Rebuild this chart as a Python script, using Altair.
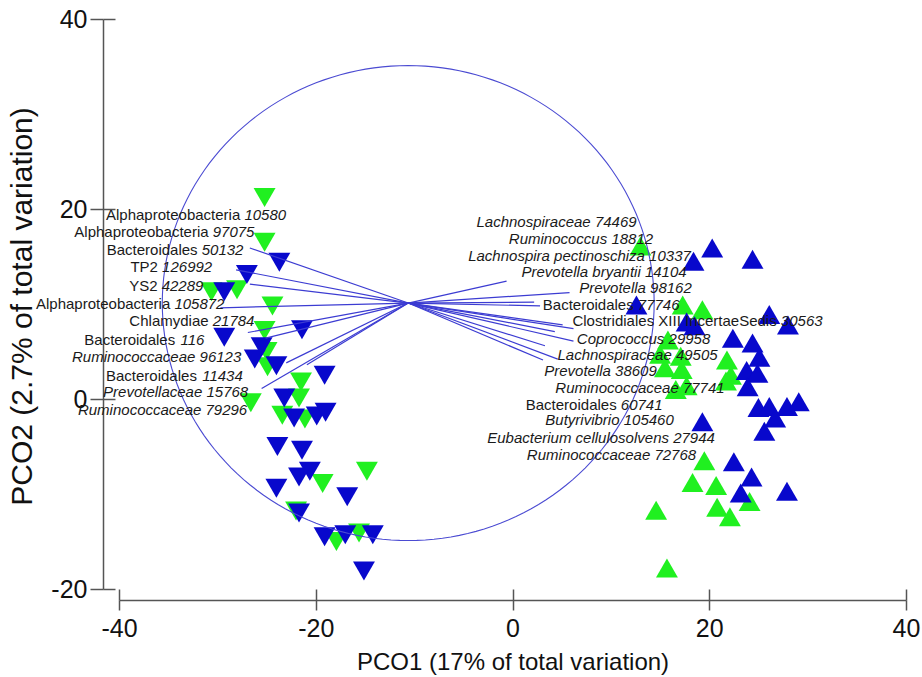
import altair as alt
import pandas as pd

FONT = "Liberation Sans, Arial, sans-serif"
GREEN = "#20F020"
BLUE = "#0808CC"
LINE_BLUE = "#3C3CD2"

# ---------------- sample scores (PCO1, PCO2) ----------------
down_green_x = [-25.2, -25.2, -28.0, -30.6, -24.4, -25.2, -25.0, -24.9, -21.5, -26.6, -21.7, -23.4, -21.1, -14.8, -19.3, -22.0, -17.9, -15.6]
down_green_y = [21.2, 16.5, 11.5, 11.3, 9.8, 7.2, 5.0, 3.4, 1.8, -0.4, 0.1, -1.7, -2.1, -7.6, -8.9, -11.8, -15.0, -14.1]
down_blue_x = [-23.7, -27.0, -29.3, -21.4, -29.3, -25.5, -26.2, -24.0, -19.1, -23.2, -22.2, -19.9, -19.0, -23.9, -21.4, -20.6, -21.7, -24.0, -16.8, -21.7, -19.1, -17.0, -14.2, -15.1]
down_blue_y = [14.4, 13.1, 11.3, 7.3, 6.5, 5.5, 4.2, 3.5, 2.5, 0.1, -2.0, -1.8, -1.4, -5.0, -5.4, -7.6, -8.2, -9.4, -10.3, -12.0, -14.5, -14.3, -14.3, -18.1]
up_green_x = [13.0, 17.3, 19.3, 15.8, 15.0, 17.1, 15.5, 17.2, 21.8, 22.2, 21.7, 16.6, 17.7, 19.5, 18.3, 20.7, 24.1, 14.6, 20.8, 22.1, 15.7]
up_green_y = [16.1, 9.9, 9.4, 6.2, 4.7, 4.5, 3.3, 3.1, 4.1, 2.5, 1.9, 1.0, 1.4, -6.5, -8.8, -9.1, -10.8, -11.7, -11.4, -12.4, -17.8]
up_blue_x = [20.3, 18.4, 24.4, 12.6, 17.7, 18.5, 26.1, 28.0, 22.4, 24.4, 25.1, 23.8, 24.9, 23.9, 25.0, 26.1, 27.9, 29.1, 26.7, 25.6, 19.3, 22.5, 24.3, 23.2, 27.9]
up_blue_y = [15.9, 14.5, 14.7, 9.9, 8.1, 7.7, 8.9, 7.8, 6.4, 5.9, 4.4, 3.0, 2.7, 1.3, -0.9, -0.8, -0.8, -0.3, -2.0, -3.4, -2.4, -6.6, -8.2, -9.9, -9.7]

# ---------------- vector overlay ----------------
circle_cx, circle_cy, circle_r = -10.6, 10.1, 25.0
vec_end_x = [-26.7, -28.1, -26.7, -29.7, -26.9, -25.1, -23.0, -20.9, -25.5,
             -0.6, 5.8, 2.2, 2.8, 5.1, 6.2, 4.3, 6.2, 3.3, 4.6, 3.1]
vec_end_y = [15.9, 13.6, 12.1, 9.6, 7.0, 6.4, 3.8, 3.6, 1.1,
             12.4, 11.2, 10.2, 9.8, 7.8, 7.4, 7.1, 6.1, 5.6, 4.2, 4.1]

# ---------------- vector labels ----------------
lab_name = ["Alphaproteobacteria", "Alphaproteobacteria", "Bacteroidales", "TP2", "YS2",
            "Alphaproteobacteria", "Chlamydiae", "Bacteroidales", "Ruminococcaceae",
            "Bacteroidales", "Prevotellaceae", "Ruminococcaceae",
            "Lachnospiraceae", "Ruminococcus", "Lachnospira pectinoschiza", "Prevotella bryantii",
            "Prevotella", "Bacteroidales", "Clostridiales XIII IncertaeSedis", "Coprococcus",
            "Lachnospiraceae", "Prevotella", "Ruminococcaceae", "Bacteroidales", "Butyrivibrio",
            "Eubacterium cellulosolvens", "Ruminococcaceae"]
lab_num = ["10580", "97075", "50132", "126992", "42289", "105872", "21784", "116", "96123",
           "11434", "15768", "79296",
           "74469", "18812", "10337", "14104", "98162", "77746", "30563", "29958", "49505",
           "38609", "77741", "60741", "105460", "27944", "72768"]
lab_style = ["mixed", "mixed", "mixed", "mixed", "mixed", "mixed", "mixed", "mixed", "italic",
             "mixed", "italic", "italic",
             "italic", "italic", "italic", "italic", "italic", "mixed", "mixed", "italic", "italic",
             "italic", "italic", "mixed", "italic", "italic", "italic"]
lab_x_start = [-41.65, -44.87, -41.38, -38.66, -38.66, -48.77, -39.01, -43.69, -44.87, -41.38, -41.58, -44.23,
               -3.66, -0.31, -4.58, 0.92, 6.81, 3.05, 5.80, 6.51, 4.58, 3.25, 4.37, 1.53, 3.46, -2.64, 1.42]
lab_x_end = [-23.01, -26.23, -27.35, -30.53, -31.42, -29.28, -26.23, -31.32, -27.48, -27.42, -26.91, -26.91,
             12.61, 14.23, 18.20, 17.69, 18.20, 16.98, 31.52, 20.13, 20.84, 14.64, 21.55, 15.25, 16.27, 20.64, 18.71]
lab_y = [19.40, 17.58, 15.69, 13.85, 11.93, 10.00, 8.17, 6.24, 4.42, 2.45, 0.69, -1.13,
         18.63, 16.84, 15.08, 13.33, 11.68, 9.93, 8.17, 6.32, 4.66, 2.91, 1.16, -0.60, -2.25, -4.11, -5.86]

# ---------------- tables ----------------
n_dg, n_db, n_ug, n_ub = len(down_green_x), len(down_blue_x), len(up_green_x), len(up_blue_x)
pts = pd.DataFrame({
    "x": down_green_x + down_blue_x + up_green_x + up_blue_x,
    "y": down_green_y + down_blue_y + up_green_y + up_blue_y,
    "grp": ["g"] * n_dg + ["b"] * n_db + ["g"] * n_ug + ["b"] * n_ub,
    "side": ["down"] * (n_dg + n_db) + ["up"] * (n_ug + n_ub),
})
pts["ord"] = range(len(pts))

vec = pd.DataFrame({"x": vec_end_x, "y": vec_end_y})
vec["x0"] = circle_cx
vec["y0"] = circle_cy

LAB_SIZE = 15
PX_PER_UNIT = 787 / 80.0
labs = pd.DataFrame({"name": lab_name, "num": lab_num, "style": lab_style,
                     "xs": lab_x_start, "xe": lab_x_end, "y": lab_y})
labs["full"] = labs["name"] + " " + labs["num"]
labs["xm"] = (labs["xs"] + labs["xe"]) / 2
# name ends where "<space><digits>" begins (digits are 0.556 em, space 0.278 em)
labs["xn"] = labs["xe"] - (labs["num"].str.len() * 0.556 + 0.278) * LAB_SIZE / PX_PER_UNIT

xs = alt.Scale(domain=[-40, 40], nice=False, zero=False)
ys = alt.Scale(domain=[-20, 40], nice=False, zero=False)
AX_COL = "#555555"
LABEL_EXPR = "'' + datum.value"

x_outer = alt.Axis(orient="bottom", values=[-40, -20, 0, 20, 40], offset=11, tickSize=10,
                   domainColor=AX_COL, tickColor=AX_COL, domainWidth=1.5, tickWidth=1.5,
                   labelFont=FONT, labelFontSize=25, labelColor="#111111", labelPadding=6,
                   labelExpr=LABEL_EXPR,
                   labelFlush=False, labelOverlap=False, grid=False,
                   title="PCO1 (17% of total variation)", titleFont=FONT, titleFontSize=24,
                   titleFontWeight="normal", titleColor="#111111", titleY=62,
                   titleBaseline="middle", titleAlign="center")
y_outer = alt.Axis(orient="left", values=[-20, 0, 20, 40], offset=16, tickSize=13,
                   domainColor=AX_COL, tickColor=AX_COL, domainWidth=1.5, tickWidth=1.5,
                   labelFont=FONT, labelFontSize=25, labelColor="#111111", labelPadding=3,
                   labelExpr=LABEL_EXPR,
                   labelFlush=False, labelOverlap=False, grid=False,
                   title="PCO2 (2.7% of total variation)", titleFont=FONT, titleFontSize=30,
                   titleFontWeight="normal", titleColor="#111111", titleX=-81, titleY=287,
                   titleAngle=270, titleBaseline="middle", titleAlign="center")
x_inner = alt.Axis(orient="bottom", values=[-40, -20, 0, 20, 40], offset=0, tickSize=11,
                   tickColor=AX_COL, tickWidth=1.5, domain=False, labels=False, grid=False, title="")
y_inner = alt.Axis(orient="left", values=[-20, 0, 20, 40], offset=4, tickSize=12,
                   tickColor=AX_COL, tickWidth=1.5, domain=False, labels=False, grid=False, title="")

points = alt.Chart(pts).mark_point(filled=True, opacity=1, size=480, strokeWidth=0).encode(
    x=alt.X("x:Q", scale=xs, axis=x_outer),
    y=alt.Y("y:Q", scale=ys, axis=y_outer),
    color=alt.Color("grp:N", scale=alt.Scale(domain=["g", "b"], range=[GREEN, BLUE]), legend=None),
    shape=alt.Shape("side:N", scale=alt.Scale(domain=["down", "up"], range=["triangle-down", "triangle-up"]), legend=None),
    order=alt.Order("ord:Q"),
)

circle = alt.Chart(alt.sequence(0, 362, 2, as_="deg")).transform_calculate(
    cx=f"{circle_cx} + {circle_r} * cos(datum.deg * PI / 180)",
    cy=f"{circle_cy} + {circle_r} * sin(datum.deg * PI / 180)",
).mark_line(color="#4B4BD2", strokeWidth=1.1).encode(
    x=alt.X("cx:Q", scale=xs, axis=x_inner),
    y=alt.Y("cy:Q", scale=ys, axis=y_inner),
    order=alt.Order("deg:Q"),
)

vectors = alt.Chart(vec).mark_rule(color=LINE_BLUE, strokeWidth=1.2).encode(
    x=alt.X("x0:Q", scale=xs, axis=None),
    y=alt.Y("y0:Q", scale=ys, axis=None),
    x2="x:Q",
    y2="y:Q",
)

txt_base = alt.Chart(labs)
txt_italic = txt_base.transform_filter(alt.datum.style == "italic").mark_text(
    align="center", baseline="middle", font=FONT, fontSize=LAB_SIZE, fontStyle="italic", color="#1a1a1a"
).encode(x=alt.X("xm:Q", scale=xs, axis=None), y=alt.Y("y:Q", scale=ys, axis=None), text="full:N")
txt_name = txt_base.transform_filter(alt.datum.style == "mixed").mark_text(
    align="right", baseline="middle", font=FONT, fontSize=LAB_SIZE, color="#1a1a1a"
).encode(x=alt.X("xn:Q", scale=xs, axis=None), y=alt.Y("y:Q", scale=ys, axis=None), text="name:N")
txt_num = txt_base.transform_filter(alt.datum.style == "mixed").mark_text(
    align="right", baseline="middle", font=FONT, fontSize=LAB_SIZE, fontStyle="italic", color="#1a1a1a"
).encode(x=alt.X("xe:Q", scale=xs, axis=None), y=alt.Y("y:Q", scale=ys, axis=None), text="num:N")

chart = alt.layer(points, circle, vectors, txt_italic, txt_name, txt_num).resolve_axis(
    x="independent", y="independent"
).properties(
    width=787, height=570,
    padding={"left": 119, "top": 19, "right": 16, "bottom": 88},
    autosize=alt.AutoSizeParams(type="none"),
    background="white",
).configure_view(strokeWidth=0)

chart.save("out.html", embed_options={"renderer": "svg", "actions": False})
